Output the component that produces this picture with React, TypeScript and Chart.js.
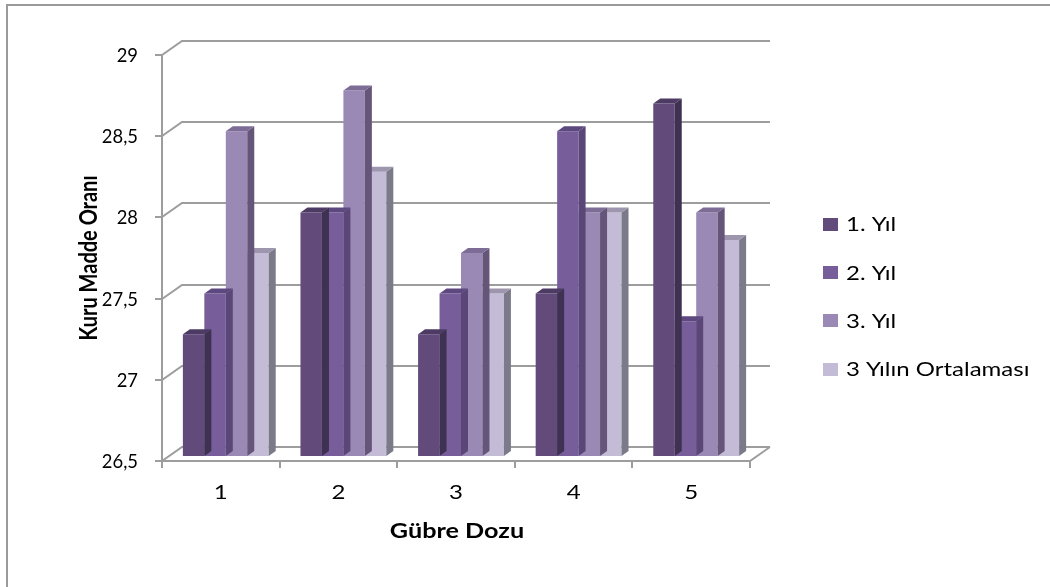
import React, { useEffect, useRef } from "react";
import { Chart, registerables } from "chart.js";

Chart.register(...registerables);

// Fertiliser dose groups and the yearly dry-matter ratios
const categories = ["1", "2", "3", "4", "5"];
const seriesNames = ["1. Yıl", "2. Yıl", "3. Yıl", "3 Yılın Ortalaması"];
const year1 = [27.25, 28, 27.25, 27.5, 28.67];
const year2 = [27.5, 28, 27.5, 28.5, 27.33];
const year3 = [28.5, 28.75, 27.75, 28, 28];
const threeYearMean = [27.75, 28.25, 27.5, 28, 27.83];
const yTicks = [26.5, 27, 27.5, 28, 28.5, 29];

const xTitle = "Gübre Dozu";
const yTitle = "Kuru Madde Oranı";

// Face colours for the pseudo-3D columns: front, right side, top
const frontColors = ["#624a7b", "#775e9b", "#9b89b5", "#c4bbd6"];
const sideColors = ["#3e3151", "#5a4777", "#655679", "#7b7a89"];
const topColors = ["#4d3b64", "#5d4980", "#7c6c96", "#9e96ae"];

const FONT = "Lato, 'Open Sans', sans-serif";
const WALL = { dx: 20, dy: -14 };
const BAR_SHIFT = { dx: 5, dy: -5 };
const BAR_DEPTH = { dx: 7, dy: -5 };
const GRID_COLOR = "#9d9d9d";
const TEXT_STRETCH = 1.2;

const formatTick = (v: number) => String(v).replace(".", ",");

type TextOpts = {
  size: number;
  bold?: boolean;
  align?: CanvasTextAlign;
  sx?: number;
  rotate?: number;
};

function drawText(ctx: CanvasRenderingContext2D, text: string, x: number, y: number, o: TextOpts) {
  ctx.save();
  ctx.translate(x, y);
  ctx.scale(o.sx ?? 1, 1);
  if (o.rotate) ctx.rotate(o.rotate);
  ctx.font = `${o.bold ? "bold " : ""}${o.size}px ${FONT}`;
  ctx.textAlign = o.align ?? "left";
  ctx.textBaseline = "alphabetic";
  ctx.fillStyle = "#000000";
  ctx.fillText(text, 0, 0);
  ctx.restore();
}

const chart3dPlugin = {
  id: "chart3d",
  beforeDraw(chart: any) {
    const { ctx, width, height } = chart;
    ctx.save();
    ctx.fillStyle = "#ffffff";
    ctx.fillRect(0, 0, width, height);
    ctx.strokeStyle = "#9a9a9a";
    ctx.lineWidth = 2;
    ctx.strokeRect(7, 5, width + 20, height + 20);
    ctx.restore();
  },
  beforeDatasetsDraw(chart: any) {
    const { ctx, chartArea: a, scales } = chart;
    const y = scales.y;
    ctx.save();
    ctx.strokeStyle = GRID_COLOR;
    ctx.lineWidth = 2;
    ctx.beginPath();
    yTicks.forEach((v) => {
      const py = Math.round(y.getPixelForValue(v));
      ctx.moveTo(a.left - 7, py);
      ctx.lineTo(a.left, py);
      ctx.lineTo(a.left + WALL.dx, py + WALL.dy);
      ctx.lineTo(a.right + WALL.dx, py + WALL.dy);
    });
    // front vertical axis
    ctx.moveTo(a.left, Math.round(y.getPixelForValue(yTicks[yTicks.length - 1])));
    ctx.lineTo(a.left, a.bottom + 7);
    // floor: front edge and right side
    ctx.moveTo(a.left, a.bottom);
    ctx.lineTo(a.right, a.bottom);
    ctx.lineTo(a.right + WALL.dx, a.bottom + WALL.dy);
    // category boundary ticks
    const n = categories.length;
    for (let i = 1; i <= n; i++) {
      const px = Math.round(a.left + (i * (a.right - a.left)) / n);
      ctx.moveTo(px, a.bottom);
      ctx.lineTo(px, a.bottom + 7);
    }
    ctx.stroke();
    ctx.restore();
  },
  beforeDatasetDraw(chart: any) {
    chart.ctx.save();
    chart.ctx.translate(BAR_SHIFT.dx, BAR_SHIFT.dy);
  },
  afterDatasetDraw(chart: any, args: any) {
    const { ctx } = chart;
    const i = args.index;
    args.meta.data.forEach((bar: any) => {
      const { x, y, base, width } = bar.getProps(["x", "y", "base", "width"], true);
      const l = x - width / 2;
      const r = x + width / 2;
      ctx.fillStyle = sideColors[i];
      ctx.beginPath();
      ctx.moveTo(r, y);
      ctx.lineTo(r + BAR_DEPTH.dx, y + BAR_DEPTH.dy);
      ctx.lineTo(r + BAR_DEPTH.dx, base + BAR_DEPTH.dy);
      ctx.lineTo(r, base);
      ctx.closePath();
      ctx.fill();
      ctx.fillStyle = topColors[i];
      ctx.beginPath();
      ctx.moveTo(l, y);
      ctx.lineTo(l + BAR_DEPTH.dx, y + BAR_DEPTH.dy);
      ctx.lineTo(r + BAR_DEPTH.dx, y + BAR_DEPTH.dy);
      ctx.lineTo(r, y);
      ctx.closePath();
      ctx.fill();
    });
    ctx.restore();
  },
  afterDraw(chart: any) {
    const { ctx, chartArea: a, scales } = chart;
    const xs = scales.x;
    const ys = scales.y;

    // value axis labels
    yTicks.forEach((v) => {
      drawText(ctx, formatTick(v), 138, ys.getPixelForValue(v) + 7, { size: 20, align: "right", sx: 0.92 });
    });
    // category labels
    xs.getLabels().forEach((label: string, i: number) => {
      drawText(ctx, label, xs.getPixelForValue(i), 499, { size: 20, align: "center", sx: TEXT_STRETCH });
    });
    // axis titles
    drawText(ctx, xTitle, (a.left + a.right) / 2 + 1, 538, {
      size: 20,
      bold: true,
      align: "center",
      sx: 1.26,
    });
    drawText(ctx, yTitle, 97, (a.top + a.bottom) / 2, {
      size: 20,
      bold: true,
      align: "center",
      sx: TEXT_STRETCH,
      rotate: -Math.PI / 2,
    });

    // legend
    chart.data.datasets.forEach((ds: any, i: number) => {
      const cy = 224 + i * 48.4;
      ctx.fillStyle = ds.backgroundColor;
      ctx.fillRect(823, Math.round(cy - 6.5), 15, 13);
      drawText(ctx, ds.label, 846, cy + 7.2, { size: 20, sx: TEXT_STRETCH });
    });
  },
};

export default function App() {
  const ref = useRef<HTMLCanvasElement>(null);

  useEffect(() => {
    if (!ref.current) return;
    const series = [year1, year2, year3, threeYearMean];
    const chart = new Chart(ref.current, {
      type: "bar",
      data: {
        labels: categories,
        datasets: series.map((values, i) => ({
          label: seriesNames[i],
          data: values,
          base: yTicks[0],
          backgroundColor: frontColors[i],
          borderWidth: 0,
          categoryPercentage: 0.73,
          barPercentage: 1.0,
          clip: false as any,
        })),
      },
      options: {
        responsive: false,
        animation: false,
        devicePixelRatio: 1,
        layout: { padding: { left: 162, right: 300, top: 55, bottom: 126 } },
        plugins: {
          legend: { display: false },
          tooltip: { enabled: false },
        },
        scales: {
          x: {
            type: "category",
            grid: { display: false, drawTicks: false },
            border: { display: false },
            ticks: { display: false },
            afterFit: (s: any) => {
              s.height = 0;
            },
          },
          y: {
            type: "linear",
            min: yTicks[0],
            max: yTicks[yTicks.length - 1],
            grid: { display: false, drawTicks: false },
            border: { display: false },
            ticks: { display: false },
            afterFit: (s: any) => {
              s.width = 0;
            },
          },
        },
      },
      plugins: [chart3dPlugin],
    });
    return () => chart.destroy();
  }, []);

  return (
    <div style={{ position: "fixed", left: 0, top: 0, width: 1050, height: 587, background: "#fff" }}>
      <canvas ref={ref} width={1050} height={587} style={{ display: "block" }} />
    </div>
  );
}
